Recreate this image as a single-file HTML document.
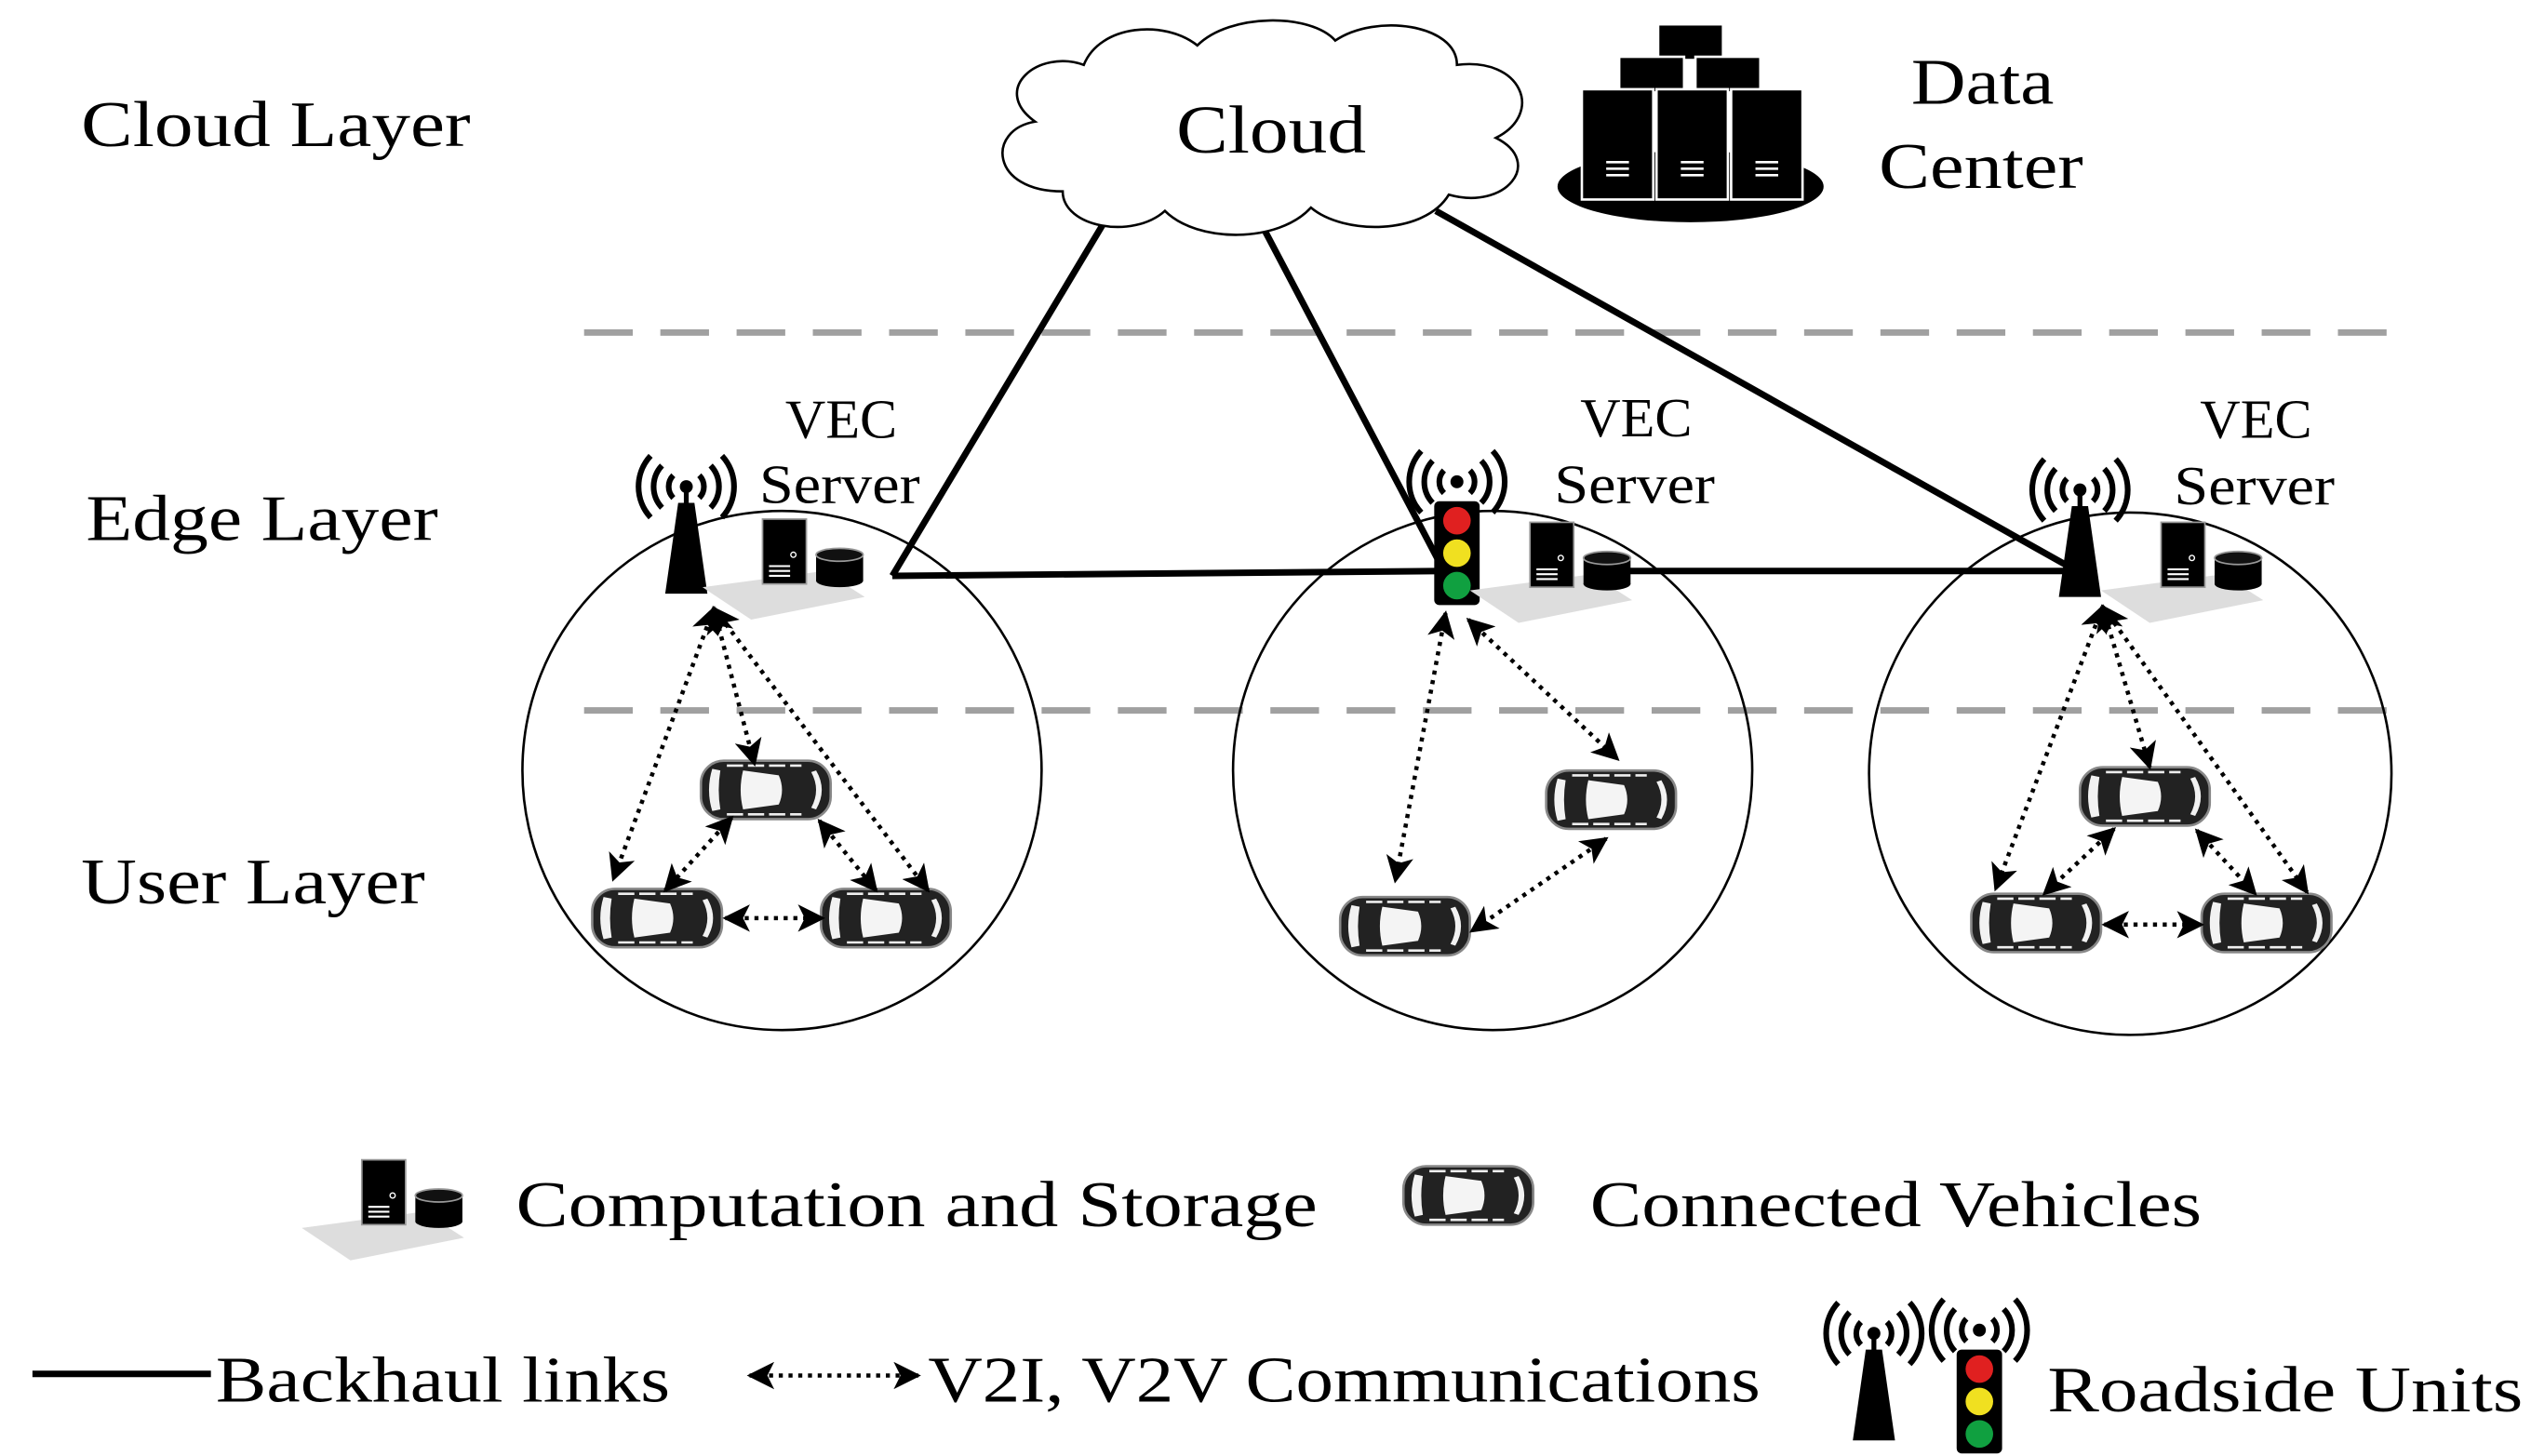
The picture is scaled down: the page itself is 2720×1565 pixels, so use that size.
<!DOCTYPE html>
<html><head><meta charset="utf-8"><style>
html,body{margin:0;padding:0;background:#fff;}
svg{display:block;}
text{font-family:"Liberation Serif",serif;fill:#000;}
</style></head><body>
<svg width="2720" height="1565" viewBox="0 0 1560 897.6" preserveAspectRatio="none" xmlns="http://www.w3.org/2000/svg">
<defs>
<marker id="ah" viewBox="0 0 10 10" refX="9" refY="5" markerWidth="6.5" markerHeight="6.5" orient="auto-start-reverse">
<path d="M0,0 L10,5 L0,10 L2.5,5 z" fill="#000"/>
</marker>
<g id="car">
<rect x="-40" y="-18" width="80" height="36" rx="14" fill="#222" stroke="#888" stroke-width="1.5"/>
<path d="M-33,-13 Q-37,0 -33,13 L-28,12 Q-30,0 -28,-12 z" fill="#f2f2f2"/>
<path d="M-14,-12 L8,-9 Q12,0 8,9 L-14,12 Q-17,0 -14,-12 z" fill="#f4f4f4"/>
<path d="M28,-11 Q34,0 28,11 L31,12 Q38,0 31,-12 z" fill="#f2f2f2"/>
<line x1="-24" y1="-15" x2="22" y2="-15" stroke="#eee" stroke-width="1.5" stroke-dasharray="10 3"/>
<line x1="-24" y1="15" x2="22" y2="15" stroke="#eee" stroke-width="1.5" stroke-dasharray="10 3"/>
</g>
<g id="srv">
<path d="M-50,22 L25,12 L50,28 L-20,42 z" fill="#ddd"/>
<rect x="-13" y="-20" width="27" height="40" fill="#000" stroke="#999" stroke-width="1"/>
<line x1="-9" y1="9" x2="4" y2="9" stroke="#fff" stroke-width="1.2"/>
<line x1="-9" y1="12" x2="4" y2="12" stroke="#fff" stroke-width="1.2"/>
<line x1="-9" y1="15" x2="4" y2="15" stroke="#fff" stroke-width="1.2"/>
<circle cx="6" cy="2" r="1.6" fill="none" stroke="#fff" stroke-width="0.8"/>
<rect x="20" y="2" width="29" height="16" fill="#000"/>
<ellipse cx="34.5" cy="18" rx="14.5" ry="4" fill="#000"/>
<ellipse cx="34.5" cy="2" rx="14.5" ry="4" fill="#111" stroke="#999" stroke-width="1"/>
</g>
<g id="waves" fill="none" stroke="#000" stroke-width="3.5">
<path d="M-8,-7 A10,10 0 0 0 -8,7"/><path d="M8,-7 A10,10 0 0 1 8,7"/>
<path d="M-15,-13 A19,19 0 0 0 -15,13"/><path d="M15,-13 A19,19 0 0 1 15,13"/>
<path d="M-22,-19 A28,28 0 0 0 -22,19"/><path d="M22,-19 A28,28 0 0 1 22,19"/>
<circle cx="0" cy="0" r="4" fill="#000" stroke="none"/>
</g>
<g id="tower">
<use href="#waves"/>
<rect x="-1.5" y="0" width="3" height="14" fill="#000"/>
<path d="M-5,10 L5,10 L13,66 L-13,66 z" fill="#000"/>
</g>
<g id="tlight">
<use href="#waves"/>
<rect x="-14" y="12" width="28" height="64" rx="3" fill="#000"/>
<circle cx="0" cy="24" r="8.5" fill="#e02020"/>
<circle cx="0" cy="44" r="8.5" fill="#f0e020"/>
<circle cx="0" cy="64" r="8.5" fill="#10a040"/>
</g>
</defs>

<line x1="360" y1="205" x2="1487" y2="205" stroke="#a0a0a0" stroke-width="4" stroke-dasharray="30 17"/>
<line x1="360" y1="438" x2="1487" y2="438" stroke="#a0a0a0" stroke-width="4" stroke-dasharray="30 17"/>

<circle cx="482" cy="475" r="160" fill="none" stroke="#000" stroke-width="1.5"/>
<circle cx="920" cy="475" r="160" fill="none" stroke="#000" stroke-width="1.5"/>
<circle cx="1313" cy="477" r="161" fill="none" stroke="#000" stroke-width="1.5"/>

<g stroke="#000" stroke-width="4" fill="none">
<line x1="680" y1="138" x2="550" y2="355"/>
<line x1="780" y1="143" x2="890" y2="352"/>
<line x1="885" y1="130" x2="1280" y2="352"/>
<line x1="550" y1="355" x2="890" y2="352"/>
<line x1="1000" y1="352" x2="1280" y2="352"/>
</g>

<path d="M655,118 C610,118 608,80 638,75 C610,55 640,30 668,40 C678,15 718,12 738,28 C758,8 808,8 823,25 C848,8 898,15 898,40 C938,35 952,70 922,85 C952,100 928,130 893,120 C878,145 828,145 808,128 C788,150 738,150 718,130 C698,148 655,140 655,118 z" fill="#fff" stroke="#000" stroke-width="1.5"/>
<text x="725" y="94" font-size="42" textLength="117" lengthAdjust="spacingAndGlyphs">Cloud</text>

<ellipse cx="1042" cy="115" rx="82" ry="22" fill="#000"/>
<g fill="#000" stroke="#fff" stroke-width="1.5">
<rect x="1022" y="15" width="40" height="22"/>
<rect x="998" y="35" width="40" height="22"/>
<rect x="1045" y="35" width="40" height="22"/>
<rect x="975" y="55" width="44" height="68"/>
<rect x="1021" y="55" width="44" height="68"/>
<rect x="1067" y="55" width="44" height="68"/>
</g>
<g stroke="#fff" stroke-width="1.5">
<line x1="990" y1="100" x2="1004" y2="100"/><line x1="990" y1="104" x2="1004" y2="104"/><line x1="990" y1="108" x2="1004" y2="108"/>
<line x1="1036" y1="100" x2="1050" y2="100"/><line x1="1036" y1="104" x2="1050" y2="104"/><line x1="1036" y1="108" x2="1050" y2="108"/>
<line x1="1082" y1="100" x2="1096" y2="100"/><line x1="1082" y1="104" x2="1096" y2="104"/><line x1="1082" y1="108" x2="1096" y2="108"/>
</g>
<text x="1178" y="64" font-size="40" textLength="88" lengthAdjust="spacingAndGlyphs">Data</text>
<text x="1158" y="116" font-size="40" textLength="126" lengthAdjust="spacingAndGlyphs">Center</text>

<text x="50" y="90" font-size="40" textLength="240" lengthAdjust="spacingAndGlyphs">Cloud Layer</text>
<text x="53" y="333" font-size="40" textLength="217" lengthAdjust="spacingAndGlyphs">Edge Layer</text>
<text x="50" y="557" font-size="40" textLength="212" lengthAdjust="spacingAndGlyphs">User Layer</text>

<text x="484" y="270" font-size="34" textLength="69" lengthAdjust="spacingAndGlyphs">VEC</text>
<text x="468" y="310" font-size="34" textLength="99" lengthAdjust="spacingAndGlyphs">Server</text>
<text x="974" y="269" font-size="34" textLength="69" lengthAdjust="spacingAndGlyphs">VEC</text>
<text x="958" y="310" font-size="34" textLength="99" lengthAdjust="spacingAndGlyphs">Server</text>
<text x="1356" y="270" font-size="34" textLength="69" lengthAdjust="spacingAndGlyphs">VEC</text>
<text x="1340" y="311" font-size="34" textLength="99" lengthAdjust="spacingAndGlyphs">Server</text>

<use href="#tower" x="423" y="300"/>
<use href="#tlight" x="898" y="297"/>
<use href="#tower" x="1282" y="302"/>

<use href="#srv" x="483" y="340"/>
<use href="#srv" x="956" y="342"/>
<use href="#srv" x="1345" y="342"/>

<use href="#car" x="472" y="487"/>
<use href="#car" x="405" y="566"/>
<use href="#car" x="546" y="566"/>
<use href="#car" x="993" y="493"/>
<use href="#car" x="866" y="571"/>
<use href="#car" x="1322" y="491"/>
<use href="#car" x="1255" y="569"/>
<use href="#car" x="1397" y="569"/>

<g stroke="#000" stroke-width="2.6" stroke-dasharray="2.5 3.5" fill="none" marker-start="url(#ah)" marker-end="url(#ah)">
<line x1="440" y1="375" x2="378" y2="542"/>
<line x1="440" y1="375" x2="465" y2="471"/>
<line x1="440" y1="375" x2="572" y2="549"/>
<line x1="451" y1="504" x2="410" y2="549"/>
<line x1="505" y1="506" x2="540" y2="549"/>
<line x1="447" y1="566" x2="507" y2="566"/>
<line x1="891" y1="378" x2="860" y2="543"/>
<line x1="905" y1="382" x2="997" y2="468"/>
<line x1="990" y1="517" x2="907" y2="574"/>
<line x1="1296" y1="374" x2="1230" y2="548"/>
<line x1="1296" y1="374" x2="1325" y2="473"/>
<line x1="1296" y1="374" x2="1422" y2="550"/>
<line x1="1303" y1="511" x2="1260" y2="551"/>
<line x1="1354" y1="512" x2="1390" y2="551"/>
<line x1="1297" y1="570" x2="1357" y2="570"/>
</g>

<use href="#srv" x="236" y="735"/>
<text x="318" y="756" font-size="40" textLength="494" lengthAdjust="spacingAndGlyphs">Computation and Storage</text>
<use href="#car" x="905" y="737"/>
<text x="980" y="756" font-size="40" textLength="377" lengthAdjust="spacingAndGlyphs">Connected Vehicles</text>

<line x1="20" y1="847" x2="130" y2="847" stroke="#000" stroke-width="4"/>
<text x="133" y="864" font-size="40" textLength="280" lengthAdjust="spacingAndGlyphs">Backhaul links</text>
<line x1="462" y1="848" x2="566" y2="848" stroke="#000" stroke-width="2.6" stroke-dasharray="2.5 3.5" marker-start="url(#ah)" marker-end="url(#ah)"/>
<text x="572" y="864" font-size="40" textLength="513" lengthAdjust="spacingAndGlyphs">V2I, V2V Communications</text>
<use href="#tower" x="1155" y="822"/>
<use href="#tlight" x="1220" y="820"/>
<text x="1262" y="870" font-size="40" textLength="293" lengthAdjust="spacingAndGlyphs">Roadside Units</text>
</svg>
</body></html>
